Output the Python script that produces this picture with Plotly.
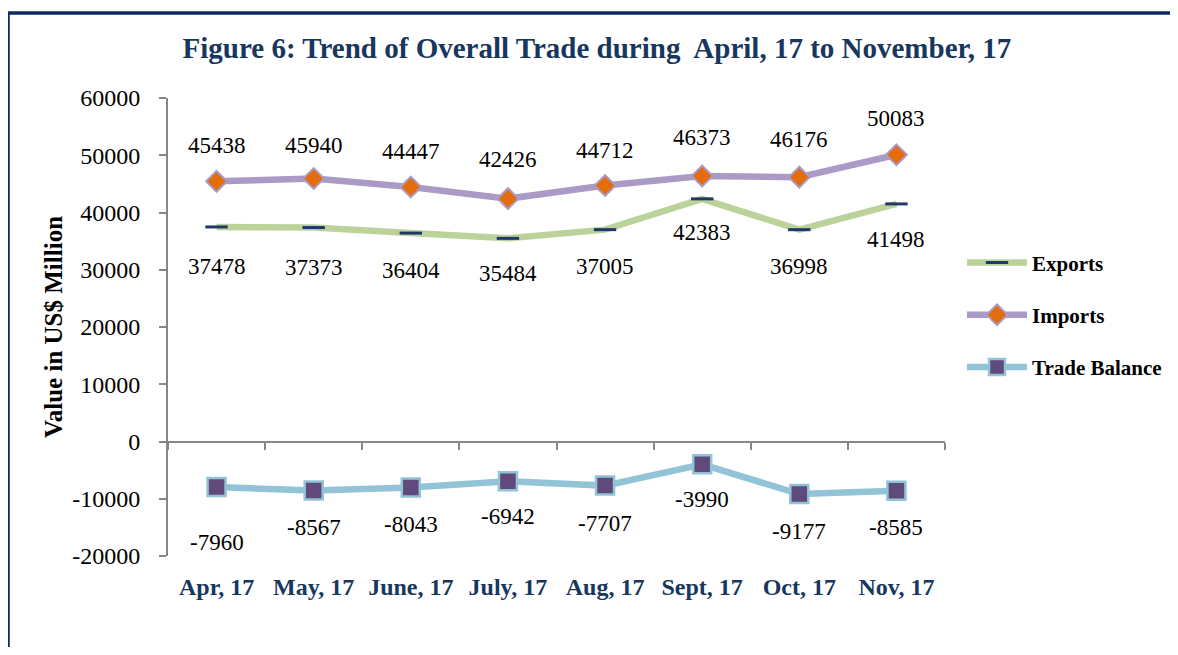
import plotly.graph_objects as go

months = ["Apr, 17", "May, 17", "June, 17", "July, 17", "Aug, 17", "Sept, 17", "Oct, 17", "Nov, 17"]
exports = [37478, 37373, 36404, 35484, 37005, 42383, 36998, 41498]
imports = [45438, 45940, 44447, 42426, 44712, 46373, 46176, 50083]
trade_balance = [-7960, -8567, -8043, -6942, -7707, -3990, -9177, -8585]
y_ticks = [-20000, -10000, 0, 10000, 20000, 30000, 40000, 50000, 60000]

# label offsets (pixels) – styling only
exp_shift = [-40, -40, -37, -35, -37, -34, -37, -36]
imp_shift = [36, 33, 36, 39, 35, 39, 38, 36]
tb_shift = [-55, -37, -37, -35, -38, -35, -37, -37]

NAVY = "#17375E"
AXIS_GRAY = "#868686"
FONT = "Liberation Serif"
W, H = 1162, 639

fig = go.Figure()
fig.add_trace(go.Scatter(
    x=months, y=exports, name="Exports", mode="lines+markers",
    line=dict(color="#BBD39B", width=6.5),
    marker=dict(symbol="line-ew", size=16, line=dict(color="#1F3864", width=3)),
    legendgroup="a"))
fig.add_trace(go.Scatter(
    x=months, y=imports, name="Imports", mode="lines+markers",
    line=dict(color="#A99BC5", width=6.5),
    marker=dict(symbol="diamond", size=16, color="#E46C0A", line=dict(color="#A99BC5", width=2)),
    legendgroup="b"))
fig.add_trace(go.Scatter(
    x=months, y=trade_balance, name="Trade Balance", mode="lines+markers",
    line=dict(color="#92C3D6", width=6.5),
    marker=dict(symbol="square", size=18, color="#604A7B", line=dict(color="#92C3D6", width=2.5)),
    legendgroup="c"))
# dummy trace for the zero-line category axis
fig.add_trace(go.Scatter(x=months, y=[None] * len(months), xaxis="x2", yaxis="y",
                         showlegend=False, hoverinfo="skip"))

annotations = []
for series, shifts in ((exports, exp_shift), (imports, imp_shift), (trade_balance, tb_shift)):
    for m, v, s in zip(months, series, shifts):
        annotations.append(dict(x=m, y=v, xref="x", yref="y", text=str(v), showarrow=False,
                                yshift=s, font=dict(family=FONT, size=23, color="black")))

annotations.append(dict(text="<b>Value in US$ Million</b>", xref="paper", yref="paper",
                        x=-0.148, y=0.5, xanchor="center", yanchor="middle",
                        textangle=-90, showarrow=False,
                        font=dict(family=FONT, size=25, color="black")))

fig.update_layout(
    width=W, height=H,
    margin=dict(l=160, r=225, t=90, b=91, autoexpand=False),
    paper_bgcolor="white", plot_bgcolor="white",
    font=dict(family=FONT, color="black"),
    title=dict(text="<b>Figure 6: Trend of Overall Trade during  April, 17 to November, 17</b>",
               x=0.552, xanchor="center", xref="paper", y=1 - 40 / H, yanchor="middle",
               yref="container",
               font=dict(family=FONT, size=29, color=NAVY)),
    xaxis=dict(type="category", categoryorder="array", categoryarray=months, range=[-0.5, 7.5],
               showline=False, ticks="", showgrid=False, zeroline=False, automargin=False,
               tickfont=dict(family=FONT, size=24, color=NAVY, weight="bold"),
               ticklabelstandoff=14),
    xaxis2=dict(type="category", categoryorder="array", categoryarray=months, range=[-0.5, 7.5],
                overlaying="x", anchor="free", position=0.25, side="bottom", automargin=False,
                showline=True, linecolor=AXIS_GRAY, linewidth=2,
                ticks="outside", tickson="boundaries", ticklen=7, tickcolor=AXIS_GRAY, tickwidth=2,
                showticklabels=False, showgrid=False, zeroline=False),
    yaxis=dict(range=[-20000, 60000], tickmode="array", tickvals=y_ticks, automargin=False,
               ticktext=[str(t) for t in y_ticks], showgrid=False, zeroline=False,
               showline=True, linecolor=AXIS_GRAY, linewidth=2,
               ticks="outside", ticklen=7, tickcolor=AXIS_GRAY, tickwidth=2,
               tickfont=dict(family=FONT, size=24, color="black"),
               ticklabelstandoff=14),
    legend=dict(xref="container", x=954 / W, y=0.685, xanchor="left", yanchor="top",
                bgcolor="rgba(0,0,0,0)",
                font=dict(family=FONT, size=21, color="black", weight="bold"),
                tracegroupgap=22, itemwidth=60),
    annotations=annotations,
    shapes=[
        dict(type="line", xref="paper", yref="paper", x0=-0.2059, x1=1.31, y0=1.1856, y1=1.1856,
             line=dict(color="#0B2A66", width=3.5)),
        dict(type="line", xref="paper", yref="paper", x0=-0.2059, x1=-0.2059, y0=1.1856, y1=-0.25,
             line=dict(color="#0B2A66", width=3.5)),
    ],
)

fig.write_html("out.html")
